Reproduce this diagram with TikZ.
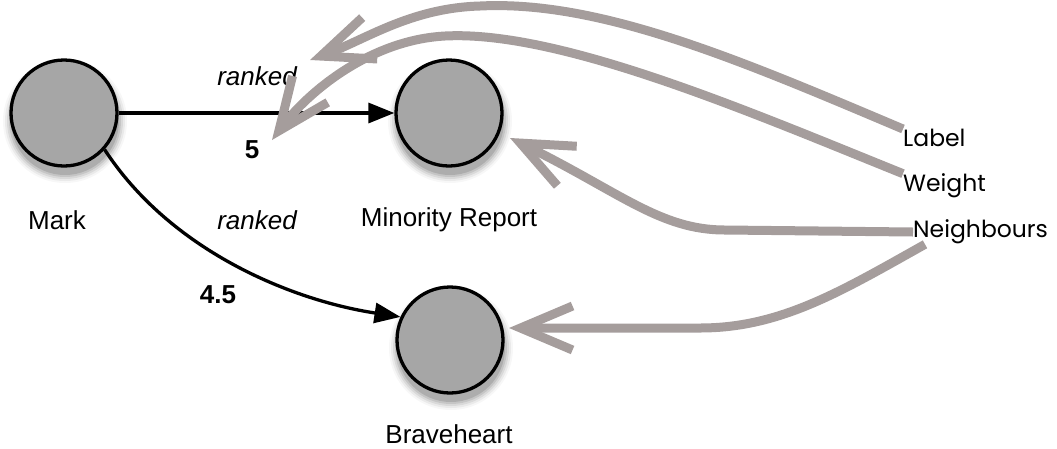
\documentclass[tikz,border=0pt]{standalone}
\usepackage{fontspec}
\setmainfont{Liberation Sans}
\newfontfamily\handfont{Poppins}
\usetikzlibrary{arrows.meta}
\definecolor{ngray}{HTML}{A6A6A6}
\definecolor{agray}{HTML}{A59D9C}
\begin{document}
\begin{tikzpicture}[x=1pt,y=-1pt,
  movie/.style={circle,draw=black,line width=3.3pt,fill=ngray,minimum size=106pt,inner sep=0pt},
  txt/.style={font=\fontsize{26}{30}\selectfont,inner sep=0pt},
  itxt/.style={font=\fontsize{26}{30}\selectfont\itshape,inner sep=0pt},
  btxt/.style={font=\fontsize{26}{30}\selectfont\bfseries,inner sep=0pt},
  htxt/.style={font=\fontsize{23.5}{28}\selectfont\handfont,inner sep=0pt,anchor=west},
  rel/.style={line width=3.3pt,-{Triangle[length=26pt,width=20pt]}},
  note/.style={draw=agray,line width=9pt,-{Straight Barb[length=52pt,width=44pt,sharp]}}]
\useasboundingbox (0,0) rectangle (1057,448);
% soft shadows
\foreach \cx/\cy in {64/113,449/113,450/340}{
  \foreach \r/\o in {62/0.03,60/0.05,58/0.07,56/0.09,54/0.12}{
    \fill[black,opacity=\o] (\cx+1,\cy+8) circle (\r);
  }
}
\node[movie] (mark) at (64,113) {};
\node[movie] (minority) at (449,113) {};
\node[movie] (brave) at (450,340) {};
\node[txt] (markl) at (57,220) {Mark};
\node[txt] (minl) at (449,220) {Minority Report};
\node[txt] (bravel) at (449,434) {Braveheart};
\node[itxt] (rk1) at (257,76) {ranked};
\node[itxt] (rk2) at (257,220) {ranked};
\node[btxt] (w1) at (252,150) {5};
\node[btxt] (w2) at (218,295) {4.5};
\node[htxt] (lab) at (903,138) {Label};
\node[htxt] (wei) at (903,186) {Weight};
\node[htxt] (nei) at (913,232) {Neighbours};
% black relations
\draw[rel] (mark.east) -- (minority.west);
\draw[rel] (mark.-42) .. controls (170,250) and (290,300) .. (brave.155);
% grey annotation arrows
\coordinate (t1) at (310,60);
\coordinate (t2) at (272,140);
\coordinate (t3) at (510,138);
\coordinate (t4) at (509,328);
\draw[note] (lab.north west) .. controls (740,60) and (600,0) .. (480,6) .. controls (410,8) and (365,40) .. (t1);
\draw[note] (wei.north west) .. controls (750,112) and (560,30) .. (445,36) .. controls (370,40) and (308,92) .. (t2);
\draw[note] (nei.west) -- (725,230) .. controls (660,230) and (620,192) .. (t3);
\draw[note] ([xshift=12pt]nei.south west) .. controls (840,292) and (780,328) .. (700,328) -- (t4);
\end{tikzpicture}
\end{document}
